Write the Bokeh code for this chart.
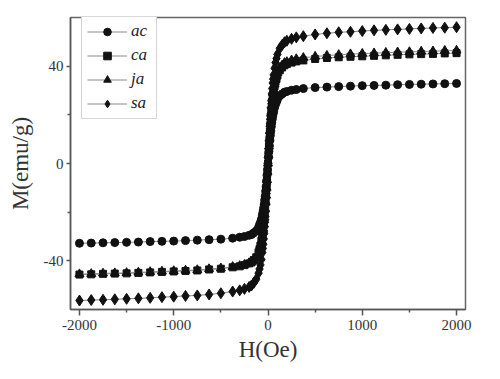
from bokeh.plotting import figure
from bokeh.embed import file_html
from bokeh.resources import INLINE
from bokeh.models import FixedTicker, Range1d, Legend, LegendItem, PrintfTickFormatter

# Field (Oe)
H = [-2000, -1875, -1750, -1625, -1500, -1375, -1250, -1125, -1000, -875, -750, -625, -500, -375,
     -300, -250, -200, -175, -150, -125, -100, -90, -80, -70, -60, -55, -50, -45, -40, -35, -30,
     -25, -20, -15, -10, -5, 0, 5, 10, 15, 20, 25, 30, 35, 40, 45, 50, 55, 60, 70, 80, 90, 100,
     125, 150, 175, 200, 250, 300, 375, 500, 625, 750, 875, 1000, 1125, 1250, 1375, 1500, 1625,
     1750, 1875, 2000]

ac = [-32.9, -32.8, -32.7, -32.6, -32.5, -32.4, -32.2, -32.1, -32.0, -31.8, -31.6, -31.4, -31.2, -30.8,
      -30.4, -30.1, -29.6, -29.3, -28.6, -27.8, -26.3, -25.3, -24.3, -23.0, -21.4, -20.4, -19.4, -18.1, -16.8, -15.1, -13.5,
      -11.5, -9.5, -7.2, -4.9, -2.5, 0.0, 2.5, 5.0, 7.3, 9.6, 11.6, 13.5, 15.2, 16.8, 18.2, 19.5, 20.5, 21.5, 23.1, 24.4, 25.4, 26.4,
      27.9, 28.7, 29.4, 29.7, 30.2, 30.5, 30.9, 31.3, 31.5, 31.7, 31.9, 32.1, 32.2, 32.3, 32.5, 32.6, 32.7,
      32.8, 32.9, 33.0]

ca = [-45.8, -45.7, -45.5, -45.4, -45.3, -45.1, -44.9, -44.7, -44.5, -44.3, -44.1, -43.7, -43.4, -42.8,
      -42.4, -41.9, -41.2, -40.8, -39.8, -38.7, -36.6, -35.3, -33.9, -32.1, -29.8, -28.4, -27.0, -25.2, -23.4, -21.1, -18.8,
      -16.0, -13.3, -10.1, -6.9, -3.4, 0.0, 3.4, 6.8, 10.0, 13.2, 15.9, 18.7, 20.9, 23.2, 25.0, 26.8, 28.2, 29.6, 31.9, 33.7, 35.0, 36.4,
      38.4, 39.6, 40.5, 41.0, 41.6, 42.1, 42.5, 43.1, 43.5, 43.8, 44.0, 44.2, 44.4, 44.6, 44.8, 45.0, 45.1,
      45.2, 45.4, 45.5]

ja = [-45.6, -45.5, -45.3, -45.2, -45.1, -44.9, -44.7, -44.5, -44.3, -44.1, -43.9, -43.5, -43.2, -42.6,
      -42.2, -41.7, -41.0, -40.6, -39.7, -38.5, -36.5, -35.1, -33.7, -31.9, -29.6, -28.3, -26.9, -25.1, -23.3, -21.0, -18.7,
      -16.0, -13.2, -10.0, -6.8, -3.4, 0.0, 3.5, 7.0, 10.3, 13.5, 16.3, 19.1, 21.4, 23.8, 25.6, 27.5, 28.9, 30.3, 32.6, 34.5, 35.9, 37.3,
      39.4, 40.5, 41.5, 41.9, 42.6, 43.1, 43.6, 44.1, 44.5, 44.8, 45.1, 45.3, 45.5, 45.7, 45.9, 46.0, 46.2,
      46.3, 46.5, 46.6]

sa = [-56.5, -56.3, -56.2, -56.0, -55.8, -55.6, -55.4, -55.1, -54.9, -54.6, -54.4, -54.0, -53.5, -52.8,
      -52.3, -51.7, -50.9, -50.3, -49.2, -47.7, -45.2, -43.5, -41.8, -39.6, -36.7, -35.0, -33.3, -31.1, -28.8, -26.0, -23.2,
      -19.8, -16.4, -12.4, -8.5, -4.2, 0.0, 4.2, 8.4, 12.4, 16.3, 19.7, 23.0, 25.9, 28.7, 30.9, 33.2, 34.8, 36.5, 39.3, 41.6, 43.3, 45.0,
      47.5, 48.9, 50.0, 50.6, 51.4, 52.0, 52.5, 53.2, 53.7, 54.1, 54.3, 54.6, 54.9, 55.1, 55.3, 55.5, 55.7,
      55.9, 56.0, 56.2]

series_names = ["ac", "ca", "ja", "sa"]
series_values = [ac, ca, ja, sa]
markers = ["circle", "square", "triangle", "diamond"]
marker_sizes = [8, 7, 9, 11]

x_ticks = [-2000, -1000, 0, 1000, 2000]
x_minor = [-1500, -500, 500, 1500]
y_ticks = [-40, 0, 40]
y_minor = [-20, 20]

p = figure(width=492, height=371, output_backend="svg", toolbar_location=None,
           x_range=Range1d(-2095, 2095), y_range=Range1d(-60.2, 60.2),
           min_border_left=70, min_border_right=27, min_border_top=17, min_border_bottom=62)
p.xgrid.visible = False
p.ygrid.visible = False
p.background_fill_color = "white"
p.border_fill_color = "white"
p.outline_line_color = "#666666"
p.outline_line_width = 1.5

items = []
for name, vals, mk, sz in zip(series_names, series_values, markers, marker_sizes):
    ln = p.line(H, vals, line_color="#8a8a8a", line_width=1)
    sc = p.scatter(H, vals, marker=mk, size=sz, fill_color="#111111", line_color="#111111")
    items.append(LegendItem(label=name, renderers=[ln, sc]))

legend = Legend(items=items, location=(11, 190))
legend.label_text_font = "Liberation Serif"
legend.label_text_font_style = "italic"
legend.label_text_font_size = "17px"
legend.label_text_color = "#222222"
legend.glyph_width = 40
legend.glyph_height = 19
legend.label_height = 19
legend.spacing = 4
legend.padding = 5
legend.label_standoff = 4
legend.border_line_color = "#aaaaaa"
legend.border_line_width = 1
legend.background_fill_alpha = 1.0
p.add_layout(legend)

for ax in [p.xaxis[0], p.yaxis[0]]:
    ax.axis_line_color = "#555555"
    ax.axis_line_width = 1.5
    ax.major_tick_line_color = "#555555"
    ax.minor_tick_line_color = "#555555"
    ax.major_tick_line_width = 1.5
    ax.minor_tick_line_width = 1.5
    ax.major_tick_in = 0
    ax.minor_tick_in = 0
    ax.major_label_text_font = "Liberation Serif"
    ax.major_label_text_font_size = "15px"
    ax.major_label_text_color = "#333333"
    ax.axis_label_text_font = "Liberation Serif"
    ax.axis_label_text_font_size = "23px"
    ax.axis_label_text_font_style = "normal"
    ax.axis_label_text_color = "#333333"
    ax.formatter = PrintfTickFormatter(format="%d")

p.xaxis.ticker = FixedTicker(ticks=x_ticks, minor_ticks=x_minor)
p.yaxis.ticker = FixedTicker(ticks=y_ticks, minor_ticks=y_minor)
p.xaxis.major_tick_out = 6
p.xaxis.minor_tick_out = 3
p.yaxis.major_tick_out = 4
p.yaxis.minor_tick_out = 3
p.xaxis.major_label_standoff = 4
p.yaxis.major_label_standoff = 3
p.xaxis.axis_label = "H(Oe)"
p.yaxis.axis_label = "M(emu/g)"
p.xaxis.axis_label_standoff = 4
p.yaxis.axis_label_standoff = 8

open("out.html", "w").write(file_html(p, INLINE))
